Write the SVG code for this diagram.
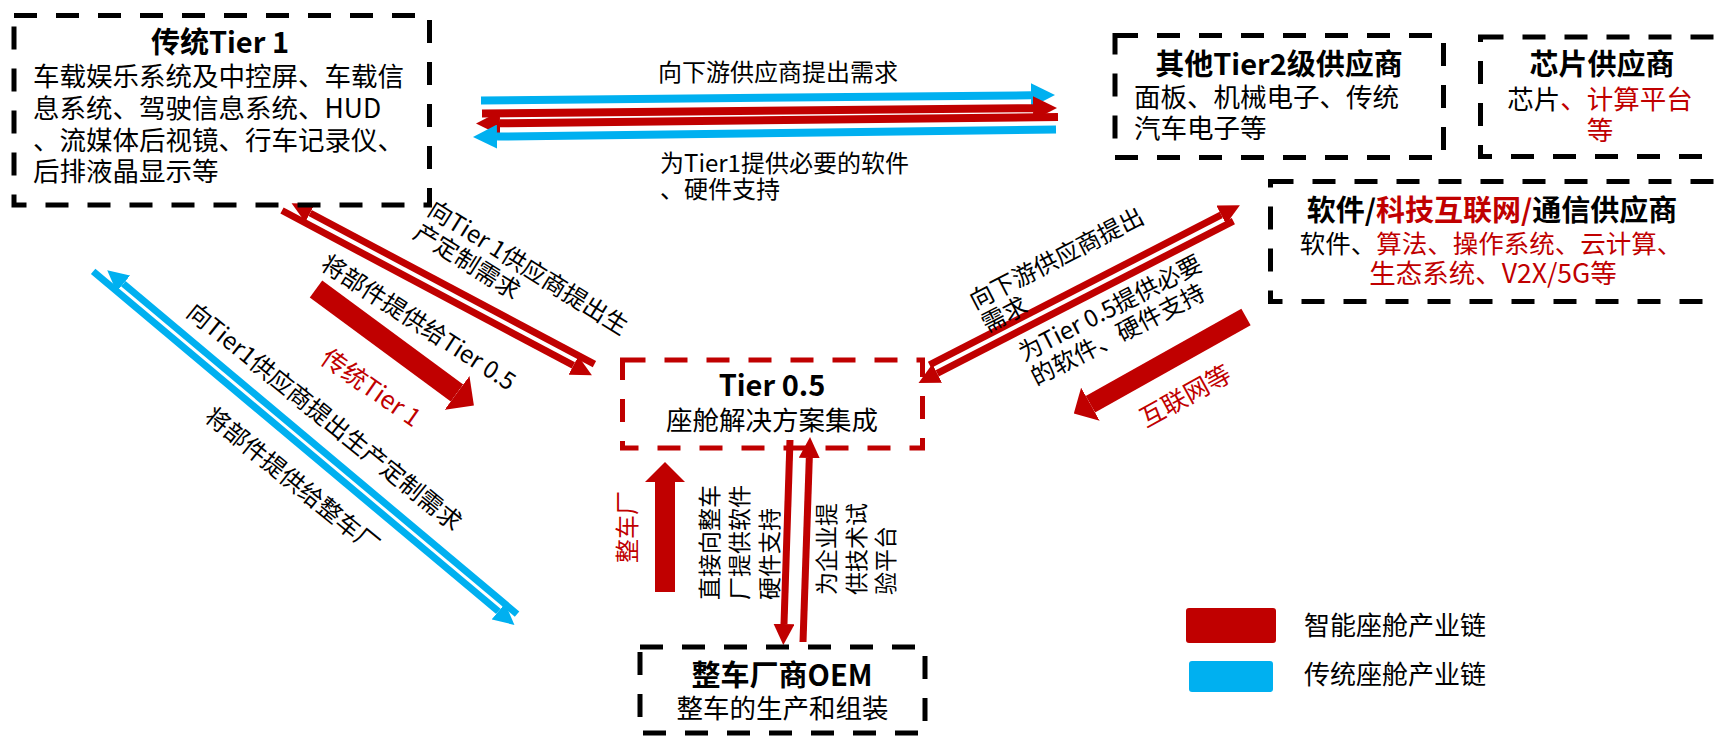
<svg xmlns="http://www.w3.org/2000/svg" width="1714" height="738" viewBox="0 0 1714 738">
<style>
.t{font-family:"Noto Sans CJK SC","Noto Sans",sans-serif;fill:#000}
.ttl{font-size:29px;font-weight:700;text-anchor:middle}
.bd{font-size:26.5px}
.lb{font-size:24px}
.c{text-anchor:middle}
.red{fill:#C00000}
.box{fill:none;stroke:#000;stroke-width:5;stroke-dasharray:23 19}
.rbox{fill:none;stroke:#C00000;stroke-width:5;stroke-dasharray:23 19}
.lr{stroke:#C00000;fill:none}
.lbl{stroke:#00B0F0;fill:none}
</style>
<defs>
<marker id="hR" viewBox="0 0 10 10" refX="0" refY="5" markerWidth="3" markerHeight="3" markerUnits="strokeWidth" orient="auto"><path d="M0,0 L10,5 L0,10 z" fill="#C00000"/></marker>
<marker id="hB" viewBox="0 0 10 10" refX="0" refY="5" markerWidth="3" markerHeight="3" markerUnits="strokeWidth" orient="auto"><path d="M0,0 L10,5 L0,10 z" fill="#00B0F0"/></marker>
<marker id="hBig" viewBox="0 0 10 20" refX="0" refY="10" markerWidth="1" markerHeight="2" markerUnits="strokeWidth" orient="auto"><path d="M0,0 L10,10 L0,20 z" fill="#C00000"/></marker>
</defs>

<g id="connectors">
  <!-- top horizontal pairs -->
  <line class="lbl" x1="481" y1="100.5" x2="1031" y2="95.3" stroke-width="8" marker-end="url(#hB)"/>
  <line class="lr" x1="482" y1="113.5" x2="1033" y2="108.2" stroke-width="8" marker-end="url(#hR)"/>
  <line class="lr" x1="1058" y1="117" x2="500" y2="123.3" stroke-width="8" marker-end="url(#hR)"/>
  <line class="lbl" x1="1056" y1="129.5" x2="497" y2="136.6" stroke-width="8" marker-end="url(#hB)"/>
  <!-- Tier1 <-> Tier0.5 red pair -->
  <g transform="translate(289,208) rotate(28)">
    <line class="lr" x1="343" y1="-5.5" x2="21" y2="-5.5" stroke-width="7" marker-end="url(#hR)"/>
    <line class="lr" x1="-5" y1="5.5" x2="325" y2="5.5" stroke-width="7" marker-end="url(#hR)"/>
  </g>
  <!-- blue pair Tier1 <-> OEM -->
  <g transform="translate(104,274) rotate(40)">
    <line class="lbl" x1="535" y1="-5" x2="21" y2="-5" stroke-width="7" marker-end="url(#hB)"/>
    <line class="lbl" x1="-10" y1="5" x2="519" y2="5" stroke-width="7" marker-end="url(#hB)"/>
  </g>
  <!-- big red Tier1 -> Tier0.5 -->
  <line class="lr" x1="316" y1="289" x2="457" y2="393" stroke-width="21" marker-end="url(#hBig)"/>
  <!-- big red OEM -> Tier0.5 -->
  <line class="lr" x1="665" y1="592" x2="665" y2="482" stroke-width="20" marker-end="url(#hBig)"/>
  <!-- thin vertical pair -->
  <line class="lr" x1="790" y1="440" x2="784" y2="624" stroke-width="7" marker-end="url(#hR)"/>
  <line class="lr" x1="803" y1="642" x2="809.3" y2="458" stroke-width="7" marker-end="url(#hR)"/>
  <!-- software pair -->
  <g transform="translate(916,378) rotate(-27.2)">
    <line class="lr" x1="18" y1="-5.5" x2="346" y2="-5.5" stroke-width="7" marker-end="url(#hR)"/>
    <line class="lr" x1="354" y1="5.5" x2="21" y2="5.5" stroke-width="7" marker-end="url(#hR)"/>
  </g>
  <!-- big red internet -> Tier0.5 -->
  <line class="lr" x1="1246" y1="317" x2="1090.4" y2="404.2" stroke-width="19" marker-end="url(#hBig)"/>
</g>

<g id="labels">
  <text class="t lb" x="658" y="81">向下游供应商提出需求</text>
  <text class="t lb" x="660" y="172">为Tier1提供必要的软件</text>
  <text class="t lb" x="660" y="198">、硬件支持</text>
  <text class="t lb" transform="translate(426,214) rotate(32)"><tspan x="0" y="0">向Tier 1供应商提出生</tspan><tspan x="0" y="27">产定制需求</tspan></text>
  <text class="t lb" transform="translate(319,268) rotate(33)">将部件提供给Tier 0.5</text>
  <text class="t red" style="font-size:25px" transform="translate(319,362) rotate(35)">传统Tier 1</text>
  <text class="t lb" transform="translate(185,315) rotate(39)">向Tier1供应商提出生产定制需求</text>
  <text class="t lb" transform="translate(203,419) rotate(39)">将部件提供给整车厂</text>
  <text class="t lb" transform="translate(975,310) rotate(-27.2)"><tspan x="0" y="0">向下游供应商提出</tspan><tspan x="0" y="26">需求</tspan></text>
  <text class="t lb" transform="translate(1024,362) rotate(-27.2)"><tspan x="0" y="0">为Tier 0.5提供必要</tspan><tspan x="0" y="27">的软件、硬件支持</tspan></text>
  <text class="t red" style="font-size:25px" transform="translate(1146,428) rotate(-29)">互联网等</text>
  <text class="t" style="font-size:23px" transform="translate(718,600) rotate(-90)"><tspan x="0" y="0">直接向整车</tspan><tspan x="0" y="30">厂提供软件</tspan><tspan x="0" y="60">硬件支持</tspan></text>
  <text class="t" style="font-size:23px" transform="translate(835,595) rotate(-90)"><tspan x="0" y="0">为企业提</tspan><tspan x="0" y="29.5">供技术试</tspan><tspan x="0" y="59">验平台</tspan></text>
  <text class="t red" style="font-size:24px" transform="translate(636,563) rotate(-90)">整车厂</text>
</g>

<g id="tier1">
  <rect class="box" x="14" y="15.5" width="415.5" height="189.5"/>
  <text class="t ttl" x="220" y="53">传统Tier 1</text>
  <text class="t bd" x="33" y="86">车载娱乐系统及中控屏、车载信</text>
  <text class="t bd" x="33" y="118">息系统、驾驶信息系统、HUD</text>
  <text class="t bd" x="33" y="150">、流媒体后视镜、行车记录仪、</text>
  <text class="t bd" x="33" y="181">后排液晶显示等</text>
</g>

<g id="tier2">
  <rect class="box" x="1115" y="35.5" width="328.5" height="122"/>
  <text class="t ttl" x="1279" y="75">其他Tier2级供应商</text>
  <text class="t bd" x="1134" y="106.5">面板、机械电子、传统</text>
  <text class="t bd" x="1134" y="138">汽车电子等</text>
</g>

<g id="chip">
  <rect class="box" x="1480.5" y="37" width="240" height="119.5"/>
  <text class="t ttl" x="1602" y="75">芯片供应商</text>
  <text class="t bd c" x="1600" y="108.5">芯片<tspan class="red">、计算平台</tspan></text>
  <text class="t bd c red" x="1600" y="139.5">等</text>
</g>

<g id="software">
  <rect class="box" x="1270.5" y="181.5" width="450" height="120"/>
  <text class="t ttl" x="1492" y="221">软件/<tspan class="red">科技互联网/</tspan>通信供应商</text>
  <text class="t bd c" style="font-size:25.5px" x="1491" y="253">软件、<tspan class="red">算法、操作系统、云计算、</tspan></text>
  <text class="t bd c red" x="1493" y="283">生态系统、V2X/5G等</text>
</g>

<g id="tier05">
  <rect class="rbox" x="622.5" y="360" width="300" height="88"/>
  <text class="t ttl" x="772" y="396">Tier 0.5</text>
  <text class="t bd c" x="772" y="430">座舱解决方案集成</text>
</g>

<g id="oem">
  <rect class="box" x="640" y="647" width="285" height="86"/>
  <text class="t ttl" x="782" y="686">整车厂商OEM</text>
  <text class="t bd c" x="782.5" y="718">整车的生产和组装</text>
</g>

<g id="legend">
  <rect x="1186" y="608" width="90" height="35" rx="3" fill="#C00000"/>
  <rect x="1189" y="661" width="84" height="31" rx="3" fill="#00B0F0"/>
  <text class="t bd" style="font-size:26px" x="1304" y="635">智能座舱产业链</text>
  <text class="t bd" style="font-size:26px" x="1304" y="684">传统座舱产业链</text>
</g>
</svg>
